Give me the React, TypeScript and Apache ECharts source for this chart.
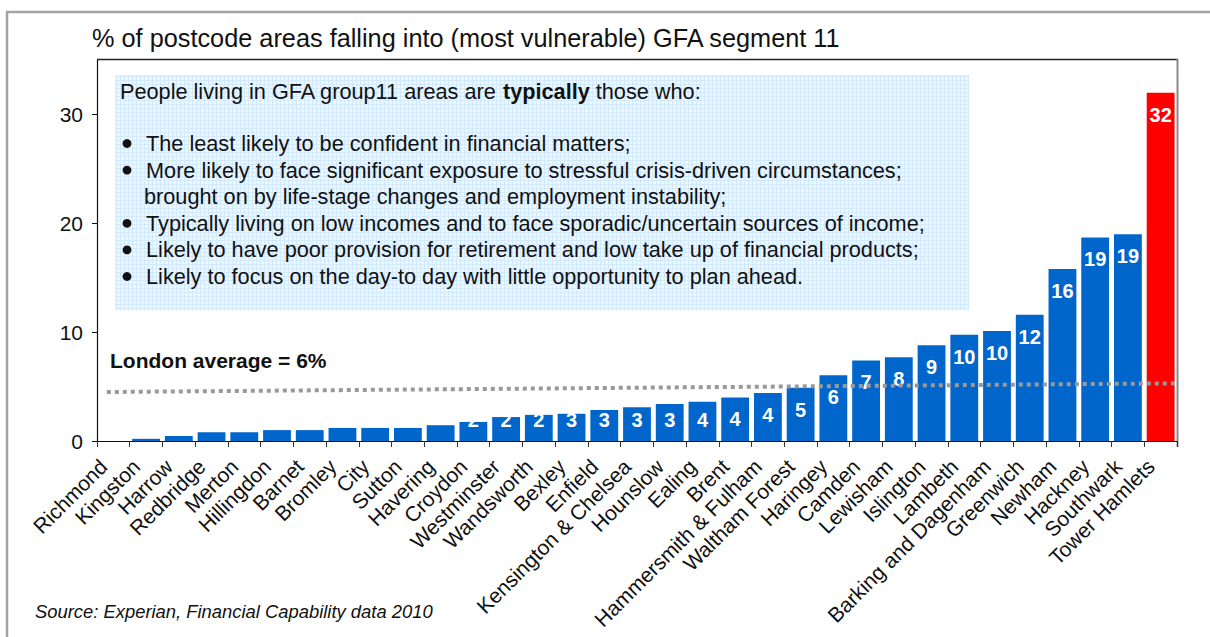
import React, { useEffect, useRef } from "react";
import * as echarts from "echarts";

// London boroughs, ordered by share of postcode areas in GFA segment 11
const boroughs = [
  "Richmond", "Kingston", "Harrow", "Redbridge", "Merton", "Hillingdon", "Barnet",
  "Bromley", "City", "Sutton", "Havering", "Croydon", "Westminster", "Wandsworth",
  "Bexley", "Enfield", "Kensington & Chelsea", "Hounslow", "Ealing", "Brent",
  "Hammersmith & Fulham", "Waltham Forest", "Haringey", "Camden", "Lewisham",
  "Islington", "Lambeth", "Barking and Dagenham", "Greenwich", "Newham", "Hackney",
  "Southwark", "Tower Hamlets",
];
const sharePct = [
  0, 0.2, 0.45, 0.8, 0.8, 1.0, 1.0, 1.2, 1.2, 1.2, 1.45, 1.75, 2.2, 2.4, 2.5, 2.85,
  3.1, 3.4, 3.6, 4.0, 4.4, 4.9, 6.05, 7.4, 7.7, 8.8, 9.75, 10.1, 11.6, 15.8, 18.7,
  19.0, 32.0,
];
const highlighted = "Tower Hamlets";
const yTicks = [0, 10, 20, 30];
// trend of the London average guide line (x in category slots, y in %)
const averageLineX = [0.3, 33.1];
const averageLineY = [4.5, 5.3];

const titleText = "% of postcode areas falling into (most vulnerable) GFA segment 11";
const boxHeading = ["People living in GFA group11 areas are ", "typically", " those who:"];
const boxBullets = [
  ["The least likely to be confident in financial matters;"],
  [
    "More likely to face significant exposure to stressful crisis-driven circumstances;",
    "brought on by life-stage changes and employment instability;",
  ],
  ["Typically living on low incomes and to face sporadic/uncertain sources of income;"],
  ["Likely to have poor provision for retirement and low take up of financial products;"],
  ["Likely to focus on the day-to day with little opportunity to plan ahead."],
];
const averageLabel = "London average = 6%";
const sourceText = "Source: Experian, Financial Capability data 2010";

const FONT = "Arial, 'Liberation Sans', Helvetica, sans-serif";
const BLUE = "#0066CC";
const RED = "#FF0000";

const W = 1210;
const H = 637;
const GRID = { left: 97, top: 60, right: 33, bottom: 196 };
const Y_MAX = 35;
const BOX_FONT = 21.7;

function gridPatternUrl(): string {
  const c = document.createElement("canvas");
  c.width = 4;
  c.height = 4;
  const g = c.getContext("2d");
  if (!g) return "";
  g.fillStyle = "#EDF6FE";
  g.fillRect(0, 0, 4, 4);
  g.fillStyle = "#D3EAFB";
  g.fillRect(0, 0, 4, 1);
  g.fillRect(0, 0, 1, 4);
  return c.toDataURL();
}

export default function App() {
  const ref = useRef<HTMLDivElement>(null);

  useEffect(() => {
    if (!ref.current) return;
    const chart = echarts.init(ref.current, undefined, { renderer: "svg" });

    const plotH = H - GRID.top - GRID.bottom;
    const pxPerUnit = plotH / Y_MAX;

    const barData = sharePct.map((v, i) => {
      const rounded = Math.round(v);
      const tall = v * pxPerUnit >= 43;
      return {
        value: v,
        itemStyle: { color: boroughs[i] === highlighted ? RED : BLUE },
        label: {
          show: rounded >= 2,
          position: tall ? "insideTop" : "insideBottom",
          distance: tall ? 12 : 11,
        },
      };
    });

    // text box contents
    const boxX = 115;
    const boxY = 75;
    const lineGap = 26.6;
    const textEls: any[] = [];
    textEls.push({
      type: "text",
      x: 120,
      y: 91.5,
      style: {
        text:
          "{n|" + boxHeading[0] + "}{b|" + boxHeading[1] + "}{n|" + boxHeading[2] + "}",
        rich: {
          n: { fontFamily: FONT, fontSize: BOX_FONT, fill: "#111" },
          b: { fontFamily: FONT, fontSize: BOX_FONT, fontWeight: "bold", fill: "#111" },
        },
        verticalAlign: "middle",
      },
    });
    let lineIdx = 0;
    boxBullets.forEach((lines) => {
      lines.forEach((ln, k) => {
        const y = 143.5 + lineGap * lineIdx;
        if (k === 0) {
          textEls.push({
            type: "circle",
            shape: { cx: 127, cy: y, r: 4.4 },
            style: { fill: "#111" },
          });
        }
        textEls.push({
          type: "text",
          x: k === 0 ? 146 : 144,
          y,
          style: {
            text: ln,
            fontFamily: FONT,
            fontSize: BOX_FONT,
            fill: "#111",
            verticalAlign: "middle",
          },
        });
        lineIdx++;
      });
    });

    const pattern = gridPatternUrl();

    chart.setOption({
      animation: false,
      backgroundColor: "#fff",
      grid: { ...GRID, containLabel: false, outerBoundsMode: "none" },
      xAxis: [
        {
          type: "category",
          data: boroughs,
          z: 10,
          axisLine: { lineStyle: { color: "#111", width: 1.2 } },
          axisTick: { show: true, length: 6, lineStyle: { color: "#333" } },
          axisLabel: {
            interval: 0,
            rotate: 45,
            margin: 12,
            padding: [0, 14, 0, 0],
            fontFamily: FONT,
            fontSize: 21,
            color: "#111",
          },
        },
        { type: "value", min: 0, max: 33, show: false },
      ],
      yAxis: {
        type: "value",
        min: 0,
        max: Y_MAX,
        interval: 10,
        splitLine: { show: false },
        axisLine: { show: true, lineStyle: { color: "#111", width: 1.2 } },
        axisTick: {
          show: true,
          inside: false,
          length: 5,
          customValues: yTicks,
          lineStyle: { color: "#111" },
        },
        axisLabel: {
          customValues: yTicks,
          margin: 14,
          fontFamily: FONT,
          fontSize: 21,
          color: "#111",
        },
      },
      series: [
        {
          type: "bar",
          data: barData,
          barCategoryGap: "15%",
          label: {
            formatter: (p: any) => String(Math.round(p.value)),
            color: "#fff",
            fontFamily: FONT,
            fontWeight: "bold",
            fontSize: 20,
          },
        },
        {
          type: "line",
          xAxisIndex: 1,
          data: averageLineX.map((x, i) => [x, averageLineY[i]]),
          symbol: "none",
          clip: false,
          silent: true,
          z: 5,
          lineStyle: { color: "#999", width: 4, type: [4, 4] },
        },
      ],
      graphic: [
        // outer frame
        {
          type: "rect",
          shape: { x: 7, y: 12, width: 1240, height: 660 },
          style: { fill: "none", stroke: "#a3a3a3", lineWidth: 2.5 },
          silent: true,
        },
        // plot frame top and right edges
        {
          type: "line",
          shape: { x1: GRID.left, y1: 59.5, x2: W - GRID.right + 1, y2: 59.5 },
          style: { stroke: "#222", lineWidth: 1.5 },
        },
        {
          type: "line",
          shape: { x1: W - GRID.right + 0.5, y1: 59, x2: W - GRID.right + 0.5, y2: 447 },
          style: { stroke: "#8a8a8a", lineWidth: 2 },
        },
        {
          type: "text",
          x: 92,
          y: 38,
          style: {
            text: titleText,
            fontFamily: FONT,
            fontSize: 25.3,
            fill: "#111",
            verticalAlign: "middle",
          },
        },
        {
          type: "rect",
          shape: { x: boxX, y: boxY, width: 854, height: 235 },
          style: {
            fill: pattern ? { image: pattern, repeat: "repeat" } : "#E6F3FC",
          },
          silent: true,
        },
        ...textEls,
        {
          type: "text",
          x: 110,
          y: 360,
          style: {
            text: averageLabel,
            fontFamily: FONT,
            fontSize: 21,
            fontWeight: "bold",
            fill: "#111",
            verticalAlign: "middle",
          },
        },
        {
          type: "text",
          x: 35,
          y: 611,
          style: {
            text: sourceText,
            fontFamily: FONT,
            fontSize: 18.4,
            fontStyle: "italic",
            fill: "#111",
            verticalAlign: "middle",
          },
        },
      ],
    });

    return () => chart.dispose();
  }, []);

  return (
    <div
      ref={ref}
      style={{ position: "fixed", left: 0, top: 0, width: W, height: H, background: "#fff" }}
    />
  );
}
